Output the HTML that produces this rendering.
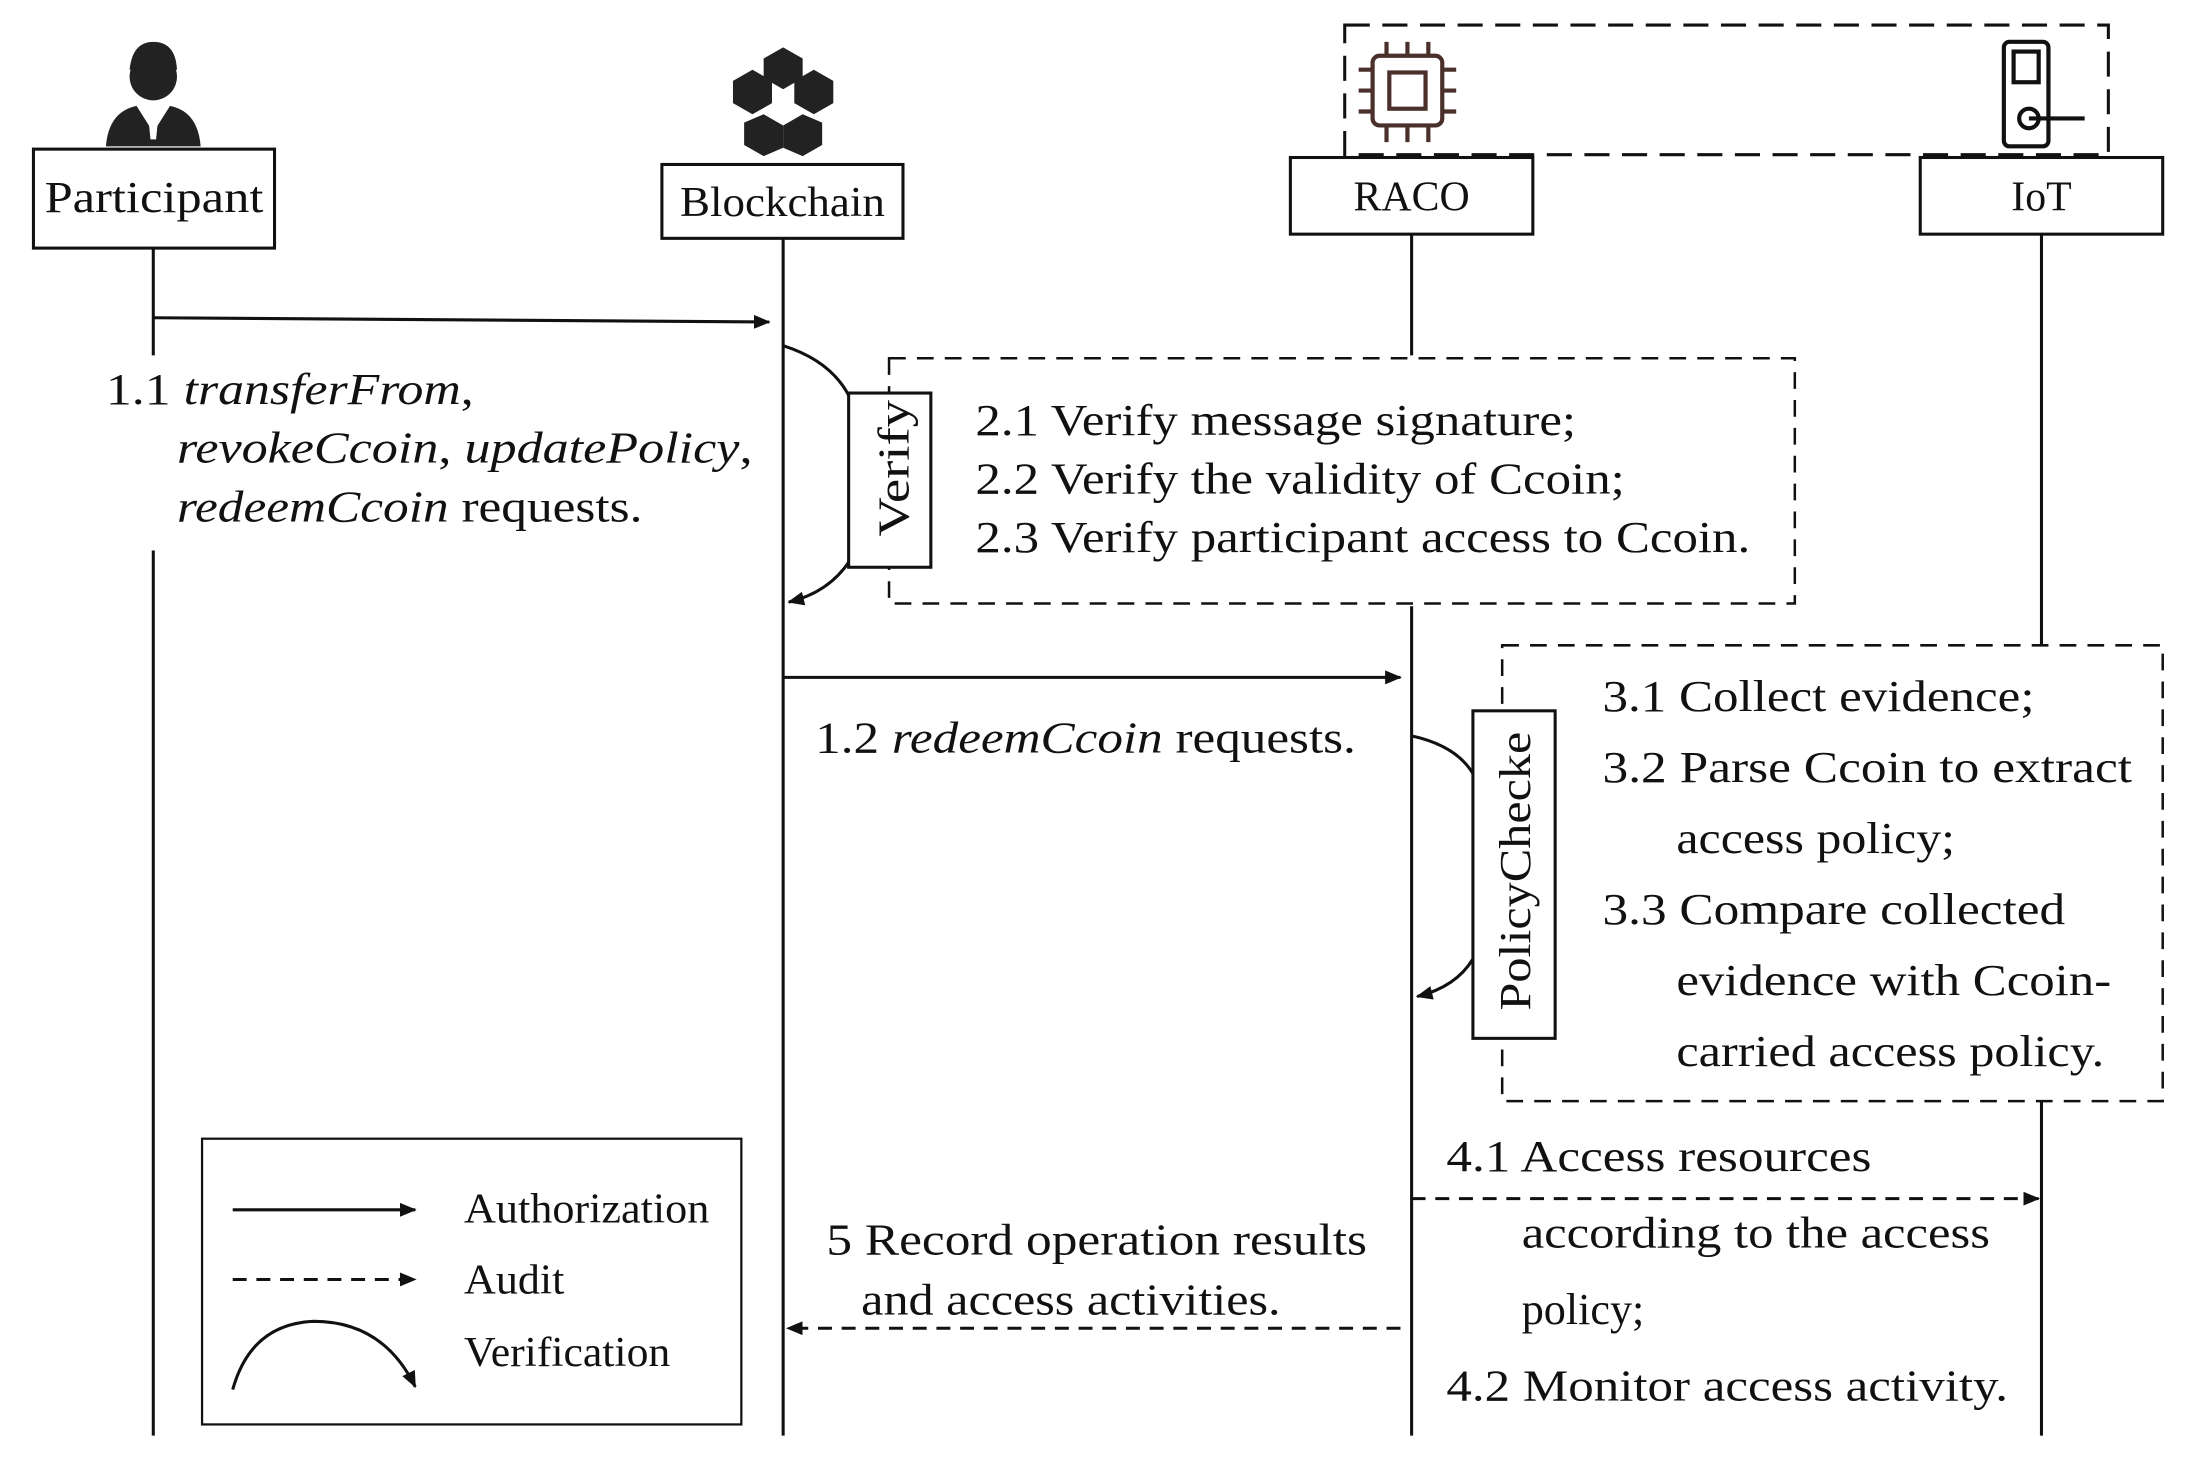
<!DOCTYPE html>
<html><head><meta charset="utf-8"><style>
html,body{margin:0;padding:0;background:#fff}
svg{display:block}
text{font-family:"Liberation Serif",serif;fill:#111}
</style></head><body>
<svg width="2185" height="1476" viewBox="0 0 1568 1059" preserveAspectRatio="none" xmlns="http://www.w3.org/2000/svg">
<defs>
<marker id="ah" markerWidth="12" markerHeight="10" refX="11" refY="5" orient="auto" markerUnits="userSpaceOnUse">
<path d="M0,0 L12,5 L0,10 z" fill="#111"/></marker>
</defs>
<g stroke="#111" stroke-width="2.2" fill="none">
<rect x="965" y="18" width="548" height="93" stroke-dasharray="18,9"/>
<line x1="110" y1="178" x2="110" y2="255"/>
<line x1="110" y1="395" x2="110" y2="1030"/>
<line x1="562" y1="171" x2="562" y2="1030"/>
<line x1="1013" y1="168" x2="1013" y2="255"/>
<line x1="1013" y1="435" x2="1013" y2="1030"/>
<line x1="1465" y1="168" x2="1465" y2="463"/>
<line x1="1465" y1="790" x2="1465" y2="1030"/>
<rect x="24" y="107" width="173" height="71" fill="#fff"/>
<rect x="475" y="118" width="173" height="53" fill="#fff"/>
<rect x="926" y="113" width="174" height="55" fill="#fff"/>
<rect x="1378" y="113" width="174" height="55" fill="#fff"/>
<line x1="110" y1="228" x2="552" y2="231" marker-end="url(#ah)"/>
<path d="M562,248 Q600,260 612,290"/>
<path d="M610,402 Q595,425 566,432" marker-end="url(#ah)"/>
<rect x="638" y="257" width="650" height="176" stroke-dasharray="12,8" stroke-width="1.8"/>
<rect x="609" y="282" width="59" height="125" fill="#fff"/>
<line x1="562" y1="486" x2="1005" y2="486" marker-end="url(#ah)"/>
<path d="M1013,528 Q1045,535 1057,555"/>
<path d="M1057,688 Q1045,708 1017,715" marker-end="url(#ah)"/>
<rect x="1078" y="463" width="474" height="327" stroke-dasharray="12,8" stroke-width="1.8"/>
<rect x="1057" y="510" width="59" height="235" fill="#fff"/>
<line x1="1013" y1="860" x2="1463" y2="860" stroke-dasharray="10,7" marker-end="url(#ah)"/>
<line x1="1005" y1="953" x2="565" y2="953" stroke-dasharray="10,7" marker-end="url(#ah)"/>
<rect x="145" y="817" width="387" height="205" stroke-width="1.6"/>
<line x1="167" y1="868" x2="298" y2="868" marker-end="url(#ah)"/>
<line x1="167" y1="918" x2="298" y2="918" stroke-dasharray="10,7" marker-end="url(#ah)"/>
<path d="M167,997 Q180,950 225,948 Q275,948 298,995" marker-end="url(#ah)"/>
</g>
<g fill="#222">
<circle cx="110" cy="55" r="17"/>
<path d="M93,50 Q95,30 110,30 Q126,30 127,50 Z"/>
<path d="M76,105 Q78,80 98,76 L110,95 L122,76 Q142,80 144,105 Z"/>
<path d="M106,80 L114,80 L112,100 L108,100 Z" fill="#fff"/>
<g transform="translate(562,72)">
<path d="M0,-38 L14,-30 L14,-16 L0,-8 L-14,-16 L-14,-30Z"/>
<path d="M-22,-22 L-8,-14 L-8,2 L-22,10 L-36,2 L-36,-14Z"/>
<path d="M22,-22 L36,-14 L36,2 L22,10 L8,2 L8,-14Z"/>
<path d="M-14,10 L0,18 L0,34 L-14,40 L-28,32 L-28,16Z"/>
<path d="M14,10 L28,16 L28,32 L14,40 L0,34 L0,18Z"/>
</g>
</g>
<g stroke="#4a2f2a" stroke-width="3" fill="none">
<rect x="985" y="40" width="50" height="50" rx="5"/>
<rect x="997" y="52" width="26" height="26"/>
<path d="M995,30v10M1010,30v10M1025,30v10M995,90v12M1010,90v12M1025,90v12M975,50h10M975,65h10M975,80h10M1035,50h10M1035,65h10M1035,80h10"/>
</g>
<g stroke="#111" stroke-width="3" fill="none">
<rect x="1438" y="30" width="32" height="75" rx="4"/>
<rect x="1445" y="37" width="18" height="22"/>
<circle cx="1456" cy="85" r="7"/>
<path d="M1456,85 h40"/>
</g>
<g font-size="32" lengthAdjust="spacingAndGlyphs">
<text x="32" y="152" textLength="157" lengthAdjust="spacingAndGlyphs">Participant</text>
<text x="488" y="155" font-size="30" textLength="147" lengthAdjust="spacingAndGlyphs">Blockchain</text>
<text x="1013" y="151" text-anchor="middle" font-size="30">RACO</text>
<text x="1465" y="151" text-anchor="middle" font-size="30">IoT</text>
<text x="76" y="290" textLength="264" lengthAdjust="spacingAndGlyphs">1.1 <tspan font-style="italic">transferFrom</tspan>,</text>
<text x="127" y="332" textLength="413" lengthAdjust="spacingAndGlyphs"><tspan font-style="italic">revokeCcoin</tspan>, <tspan font-style="italic">updatePolicy</tspan>,</text>
<text x="127" y="374" textLength="334" lengthAdjust="spacingAndGlyphs"><tspan font-style="italic">redeemCcoin</tspan> requests.</text>
<text transform="translate(652,336) rotate(-90)" text-anchor="middle" textLength="98" lengthAdjust="spacingAndGlyphs">Verify</text>
<text x="700" y="312" textLength="431" lengthAdjust="spacingAndGlyphs">2.1 Verify message signature;</text>
<text x="700" y="354" textLength="466" lengthAdjust="spacingAndGlyphs">2.2 Verify the validity of Ccoin;</text>
<text x="700" y="396" textLength="556" lengthAdjust="spacingAndGlyphs">2.3 Verify participant access to Ccoin.</text>
<text x="585" y="540" textLength="388" lengthAdjust="spacingAndGlyphs">1.2 <tspan font-style="italic">redeemCcoin</tspan> requests.</text>
<text transform="translate(1098,625) rotate(-90)" text-anchor="middle" textLength="200" lengthAdjust="spacingAndGlyphs">PolicyChecke</text>
<text x="1150" y="510" textLength="310" lengthAdjust="spacingAndGlyphs">3.1 Collect evidence;</text>
<text x="1150" y="561" textLength="380" lengthAdjust="spacingAndGlyphs">3.2 Parse Ccoin to extract</text>
<text x="1203" y="612" textLength="200" lengthAdjust="spacingAndGlyphs">access policy;</text>
<text x="1150" y="663" textLength="332" lengthAdjust="spacingAndGlyphs">3.3 Compare collected</text>
<text x="1203" y="714" textLength="312" lengthAdjust="spacingAndGlyphs">evidence with Ccoin-</text>
<text x="1203" y="765" textLength="307" lengthAdjust="spacingAndGlyphs">carried access policy.</text>
<text x="1038" y="840" textLength="305" lengthAdjust="spacingAndGlyphs">4.1 Access resources</text>
<text x="1092" y="895" textLength="336" lengthAdjust="spacingAndGlyphs">according to the access</text>
<text x="1092" y="950" textLength="88" lengthAdjust="spacingAndGlyphs">policy;</text>
<text x="1038" y="1005" textLength="403" lengthAdjust="spacingAndGlyphs">4.2 Monitor access activity.</text>
<text x="593" y="900" textLength="388" lengthAdjust="spacingAndGlyphs">5 Record operation results</text>
<text x="618" y="943" textLength="301" lengthAdjust="spacingAndGlyphs">and access activities.</text>
<text x="333" y="877" font-size="30" textLength="176" lengthAdjust="spacingAndGlyphs">Authorization</text>
<text x="333" y="928" font-size="30" textLength="72" lengthAdjust="spacingAndGlyphs">Audit</text>
<text x="333" y="980" font-size="30" textLength="148" lengthAdjust="spacingAndGlyphs">Verification</text>
</g>
</svg>
</body></html>
